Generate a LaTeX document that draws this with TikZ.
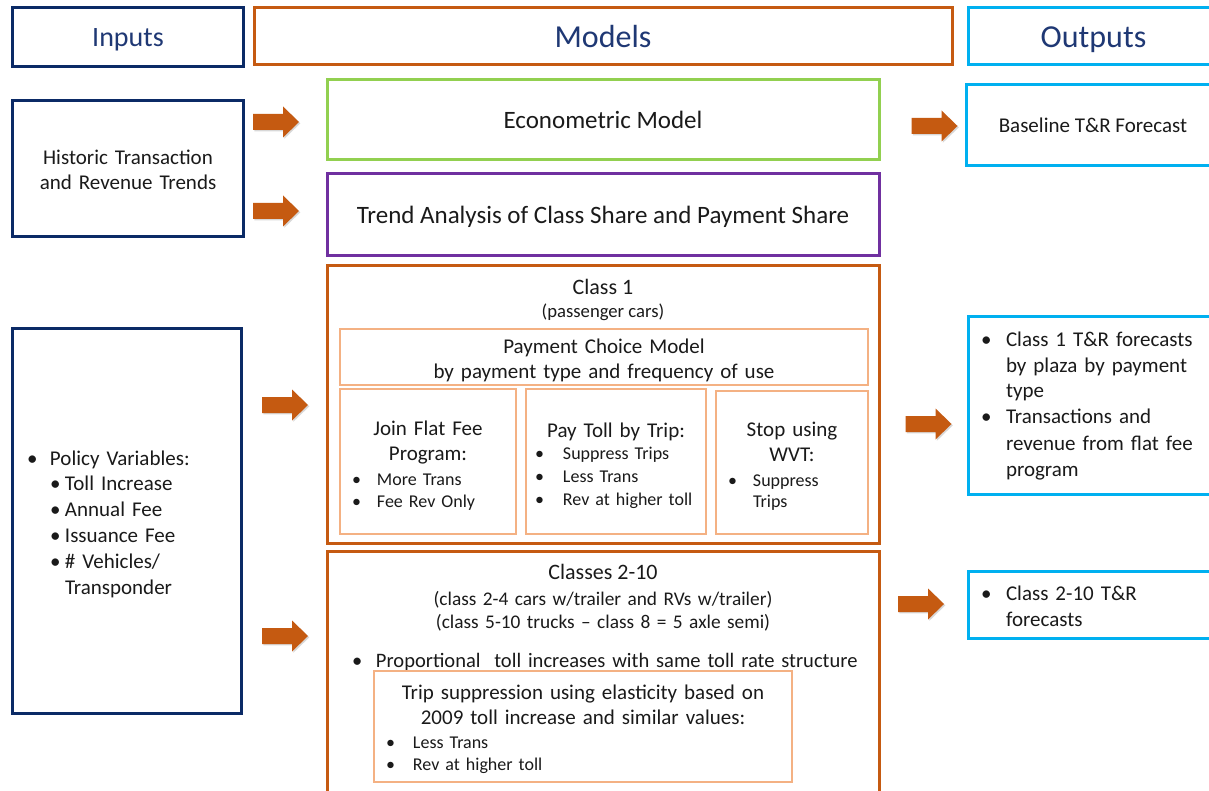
\documentclass[tikz,border=0pt]{standalone}
\usepackage{fontspec}
\setmainfont{Carlito}
\usetikzlibrary{shadows}
\newdimen\px \px=0.75pt
\definecolor{navy}{HTML}{0B2A66}
\definecolor{navytxt}{HTML}{1F3874}
\definecolor{orng}{HTML}{C55A11}
\definecolor{ltorng}{HTML}{F4B183}
\definecolor{ltblue}{HTML}{00B0F0}
\definecolor{grn}{HTML}{92D050}
\definecolor{purp}{HTML}{7030A0}
\definecolor{txtc}{HTML}{1A1A1A}
\newcommand\bu[1]{\makebox[#1\px][l]{\textbullet}}
\newcommand\ind[1]{\hspace*{#1\px}}
\newcommand\barrow[3]{%
  \fill[orng, drop shadow={opacity=0.3, shadow xshift=1pt, shadow yshift=-1pt}]
    (#2,#3) ++(-23,-8) -- ++(30,0) -- ++(0,-7.5) -- ++(16,15.5) -- ++(-16,15.5)
    -- ++(0,-7.5) -- ++(-30,0) -- cycle;
  \coordinate (#1) at (#2,#3);}
\tikzset{
  hd/.style={draw=#1, line width=2.25pt, inner sep=0pt},
  htx/.style={inner sep=0pt, outer sep=0pt, text=navytxt, anchor=base},
  bx/.style={draw=#1, line width=2.25pt, inner sep=0pt, text=txtc, align=center},
  ibx/.style={draw=ltorng, line width=1.1pt, inner sep=0pt, text=txtc, align=center},
  tx/.style={inner sep=0pt, outer sep=0pt, text=txtc},
  body/.style={font=\fontsize{15.75}{18.75}\selectfont},
}
\begin{document}
\begin{tikzpicture}[x=0.75pt, y=-0.75pt]
\useasboundingbox (0,0) rectangle (1209,791);
\clip (0,0) rectangle (1209,791);
\fill[white] (0,0) rectangle (1209,791);
% headers
\node[hd=navy, minimum width=231\px, minimum height=59\px] (inputs) at (127.5,37.5) {};
\node[hd=orng, minimum width=698\px, minimum height=57\px] (models) at (603,36.5) {};
\node[hd=ltblue, minimum width=251\px, minimum height=57\px] (outputs) at (1093.5,36.5) {};
\node[htx, font=\fontsize{21}{24}\selectfont] (inputsT) at (128,47) {Inputs};
\node[htx, font=\fontsize{24}{28}\selectfont] (modelsT) at (603,48) {Models};
\node[htx, font=\fontsize{24}{28}\selectfont] (outputsT) at (1093.5,48) {Outputs};
% inputs
\node[bx=navy, minimum width=231\px, minimum height=136\px] (hist) at (127.5,169) {};
\node[tx, anchor=base, text width=220\px, align=center, body] (histT) at (128,165) {Historic Transaction\\and Revenue Trends};
\node[bx=navy, minimum width=229\px, minimum height=384\px] (policy) at (126.5,521) {};
\node[tx, anchor=base west, text width=210\px, align=left, font=\fontsize{15.75}{19.4}\selectfont] (policyt) at (27,465)
  {\bu{23}Policy Variables:\\\ind{23}\bu{15}Toll Increase\\\ind{23}\bu{15}Annual Fee\\\ind{23}\bu{15}Issuance Fee\\\ind{23}\bu{15}\# Vehicles/\\\ind{38}Transponder};
% models
\node[bx=grn, minimum width=552\px, minimum height=80\px] (econ) at (603,120) {};
\node[tx, anchor=base, font=\fontsize{18.75}{22}\selectfont] (econT) at (603,129) {Econometric Model};
\node[bx=purp, minimum width=552\px, minimum height=82\px] (trend) at (603,215) {};
\node[tx, anchor=base, font=\fontsize{18.75}{22}\selectfont] (trendT) at (603,224) {Trend Analysis of Class Share and Payment Share};
\node[bx=orng, minimum width=552\px, minimum height=277\px] (class1) at (603,404.5) {};
\node[tx, anchor=base, font=\fontsize{16.5}{20}\selectfont] (c1t) at (603,295) {Class 1};
\node[tx, anchor=base, font=\fontsize{14}{17}\selectfont] (c1s) at (603,318) {(passenger cars)};
\node[ibx, minimum width=528\px, minimum height=56\px] (pcm) at (604,357) {};
\node[tx, anchor=base, text width=520\px, align=center, body] (pcmT) at (604,353.5) {Payment Choice Model\\by payment type and frequency of use};
\node[ibx, minimum width=176\px, minimum height=145\px] (join) at (428,461.5) {};
\node[ibx, minimum width=180\px, minimum height=145\px] (pay) at (616,461.5) {};
\node[ibx, minimum width=152\px, minimum height=143\px] (stop) at (792,462.5) {};
\node[tx, anchor=base, text width=170\px, align=center, body] (joint) at (428,435) {Join Flat Fee\\Program:};
\node[tx, anchor=base west, text width=160\px, align=left, font=\fontsize{13.5}{16.5}\selectfont] (joinb) at (352,485) {\bu{25}More Trans\\\bu{25}Fee Rev Only};
\node[tx, anchor=base, text width=174\px, align=center, body] (payt) at (616,437) {Pay Toll by Trip:};
\node[tx, anchor=base west, text width=170\px, align=left, font=\fontsize{13.5}{17.25}\selectfont] (payb) at (535,459) {\bu{28}Suppress Trips\\\bu{28}Less Trans\\\bu{28}Rev at higher toll};
\node[tx, anchor=base, text width=146\px, align=center, body] (stopt) at (792,436) {Stop using\\WVT:};
\node[tx, anchor=base west, text width=130\px, align=left, font=\fontsize{13.5}{15.75}\selectfont] (stopb) at (728,486) {\bu{25}Suppress\\\ind{25}Trips};
\node[bx=orng, minimum width=552\px, minimum height=249\px] (class210) at (603,675.5) {};
\node[tx, anchor=base, font=\fontsize{16.5}{20}\selectfont] (c2t) at (603,579) {Classes 2-10};
\node[tx, anchor=base, text width=530\px, align=center, font=\fontsize{14.5}{17.25}\selectfont] (c2s) at (603,605) {(class 2-4 cars w/trailer and RVs w/trailer)\\(class 5-10 trucks -- class 8 = 5 axle semi)};
\node[tx, anchor=base west, text width=520\px, align=left, font=\fontsize{15.4}{18.75}\selectfont] (prop) at (352,667) {\bu{24}Proportional\ \ toll increases with same toll rate structure};
\node[ibx, minimum width=418\px, minimum height=111\px] (trip) at (583,726.5) {};
\node[tx, anchor=base, text width=410\px, align=center, body] (tript) at (583,699) {Trip suppression using elasticity based on\\2009 toll increase and similar values:};
\node[tx, anchor=base west, text width=200\px, align=left, font=\fontsize{13.5}{16.5}\selectfont] (tripb) at (386,748) {\bu{27}Less Trans\\\bu{27}Rev at higher toll};
% outputs
\node[bx=ltblue, minimum width=254\px, minimum height=81\px] (base) at (1093,125.5) {};
\node[tx, anchor=base, body] (baseT) at (1093,133) {Baseline T\&R Forecast};
\node[bx=ltblue, minimum width=252\px, minimum height=177\px] (out1) at (1094,405.5) {};
\node[tx, anchor=base west, text width=240\px, align=left, font=\fontsize{15.75}{19.5}\selectfont] (out1t) at (981,346)
  {\bu{25}Class 1 T\&R forecasts\\\ind{25}by plaza by payment\\\ind{25}type\\\bu{25}Transactions and\\\ind{25}revenue from flat fee\\\ind{25}program};
\node[bx=ltblue, minimum width=252\px, minimum height=67\px] (out2) at (1094,604.5) {};
\node[tx, anchor=base west, text width=240\px, align=left, font=\fontsize{15.75}{19.5}\selectfont] (out2t) at (981,600)
  {\bu{25}Class 2-10 T\&R\\\ind{25}forecasts};
% block arrows
\barrow{a1}{276}{122}
\barrow{a2}{276}{211}
\barrow{a3}{285}{405}
\barrow{a4}{285}{636}
\barrow{a5}{934.5}{126}
\barrow{a6}{928.5}{424}
\barrow{a7}{921}{604}
\end{tikzpicture}
\end{document}
